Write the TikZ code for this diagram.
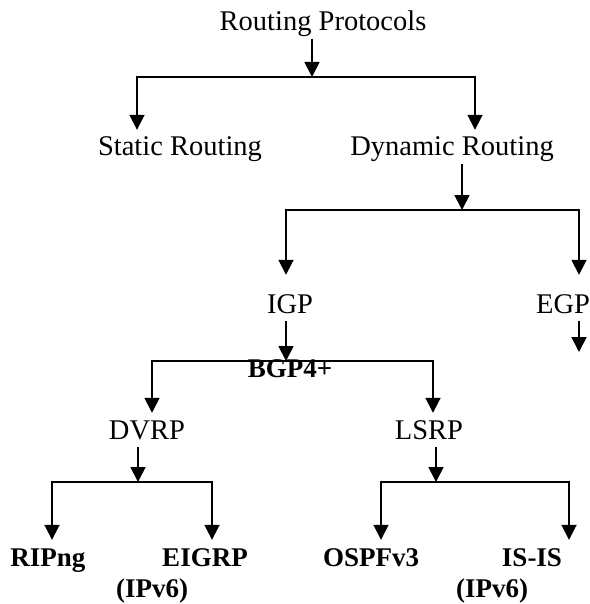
\documentclass[tikz,border=0pt]{standalone}
\usepackage{fontspec}
\setmainfont{Liberation Serif}
\usetikzlibrary{arrows.meta}
\usetikzlibrary{calc}

\begin{document}
\begin{tikzpicture}[x=1pt, y=-1pt, >={Triangle[width=15pt,length=15pt]}]

    % TikZ styles for drawing %%%%%%%%%%%%%%%%%%%%%%%%%%%%%%%%%%%%%%%%%%%%%%%%%%%%%%
    \tikzstyle{proto} = [inner xsep=0pt,inner ysep=8pt,text height=18pt,text depth=0pt,font=\fontsize{28.5}{30}\selectfont]
    \tikzstyle{impl} = [proto,font=\fontsize{27}{30}\selectfont\bfseries]
    \tikzstyle{connector} = [->,line width=1.8pt]

    \useasboundingbox (0,0) rectangle (589,604);

    % Node placement at coordinates %%%%%%%%%%%%%%%%%%%%%%%%%%%%%%%%%%%%%%%%%%%%%%%%%%%%%
    \node[proto] (root) at (323, 22) {Routing Protocols};
    \node[proto] (static) at (180, 147) {Static Routing};
    \node[proto] (dynamic) at (452, 147) {Dynamic Routing};
    \node[proto] (igp) at (290, 304) {IGP};
    \node[proto] (egp) at (563, 304) {EGP};
    \node[impl] (bgp) at (290, 368) {BGP4+};
    \node[proto] (dvrp) at (147, 430) {DVRP};
    \node[proto] (lsrp) at (429, 430) {LSRP};
    \node[impl] (ripng) at (48, 557) {RIPng};
    \node[impl] (eigrp) at (205, 557) {EIGRP};
    \node[impl] (eigrpv6) at (152, 588) {(IPv6)};
    \node[impl] (ospf) at (371, 557) {OSPFv3};
    \node[impl] (isis) at (532, 557) {IS-IS};
    \node[impl] (isisv6) at (492, 588) {(IPv6)};

    % branch points
    \coordinate (jroot) at (312, 77);
    \coordinate (jdyn) at (462, 210);
    \coordinate (jigp) at (286, 361);
    \coordinate (jdvrp) at (138, 482);
    \coordinate (jlsrp) at (436, 482);
    \coordinate (egpend) at (579, 352);

    % Now link the nodes %%%%%%%%%%%%%%%%%%%%%%%%%%%%%%%%%%%%%%%%%%%%%%%%%%%%%%%%%%%%%%%%
    \draw [connector] (root.south -| jroot) -- (jroot);
    \draw [connector] (jroot) -| ([xshift=-43pt]static.north);
    \draw [connector] (jroot) -| ([xshift=23pt]dynamic.north);
    \draw [connector] (dynamic.south -| jdyn) -- (jdyn);
    \draw [connector, shorten >=12pt] (jdyn) -| ([xshift=-4pt]igp.north);
    \draw [connector, shorten >=12pt] (jdyn) -| ([xshift=16pt]egp.north);
    \draw [connector] (igp.south -| jigp) -- (jigp);
    \draw [connector] (egp.south -| egpend) -- (egpend);
    \draw [connector] (jigp) -| ([xshift=5pt]dvrp.north);
    \draw [connector] (jigp) -| ([xshift=4pt]lsrp.north);
    \draw [connector] (dvrp.south -| jdvrp) -- (jdvrp);
    \draw [connector] (lsrp.south -| jlsrp) -- (jlsrp);
    \draw [connector] (jdvrp) -| ([xshift=4pt]ripng.north);
    \draw [connector] (jdvrp) -| ([xshift=7pt]eigrp.north);
    \draw [connector] (jlsrp) -| ([xshift=10pt]ospf.north);
    \draw [connector] (jlsrp) -| ([xshift=37pt]isis.north);

\end{tikzpicture}
\end{document}
